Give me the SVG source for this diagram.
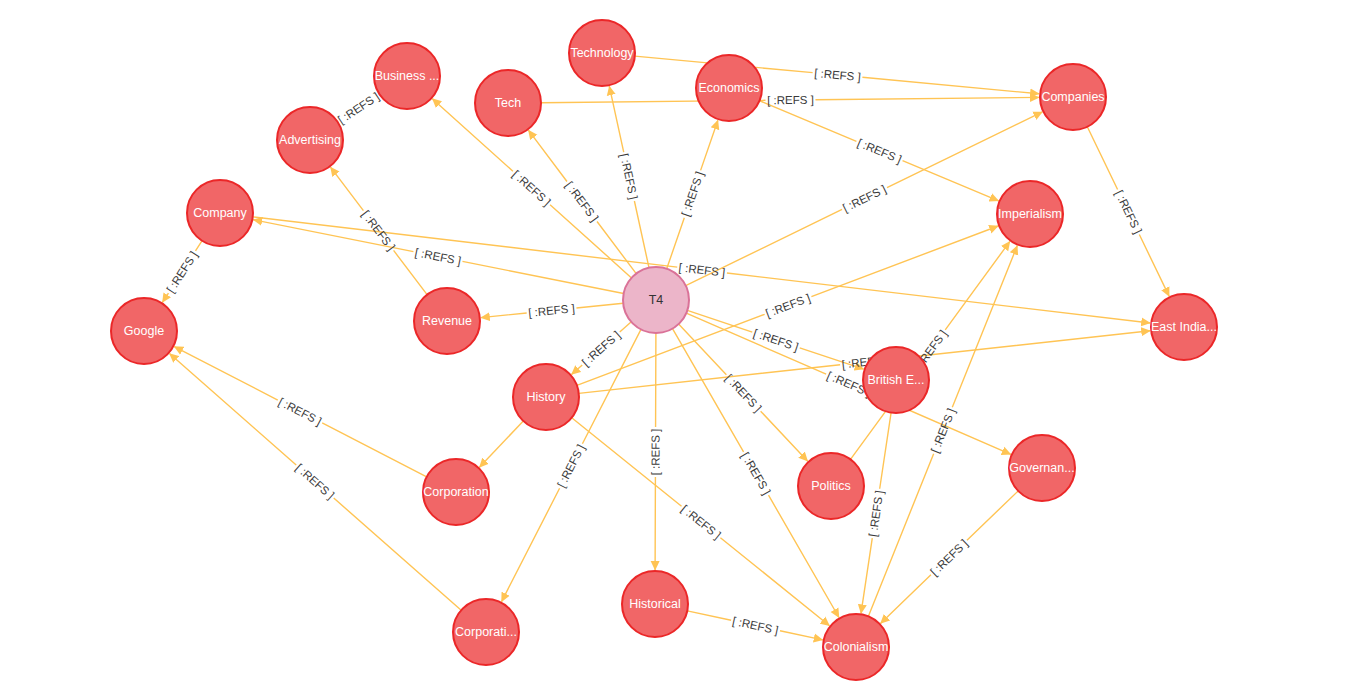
<svg xmlns="http://www.w3.org/2000/svg" width="1359" height="698" viewBox="0 0 1359 698">
<defs>
<marker id="arr" markerWidth="10" markerHeight="10" refX="9" refY="5" orient="auto" markerUnits="userSpaceOnUse"><path d="M0,0.5 L9.5,5 L0,9.5 Z" fill="#FFC454"/></marker>
<style>
.e{stroke:#FFC454;stroke-width:1.4;fill:none;marker-end:url(#arr)}
.l{font-family:"Liberation Sans",Arial,sans-serif;font-size:11.5px;fill:#3a3a3a;text-anchor:middle}
.n circle{fill:#F16667;stroke:#EB2728;stroke-width:2}
.n text{font-family:"Liberation Sans",Arial,sans-serif;font-size:12.5px;fill:#fff;text-anchor:middle}
#T4 circle{fill:#ECB5C9;stroke:#DA7298}
#T4 text{fill:#333}
</style>
</defs>
<rect width="1359" height="698" fill="#fff"/>
<g id="connectors">
<line class="e" x1="631.5" y1="277.9" x2="432.3" y2="98.7" stroke-dasharray="109.5 50 9999"/>
<line class="e" x1="636.2" y1="273.6" x2="528.4" y2="130.2" stroke-dasharray="65.2 50 9999"/>
<line class="e" x1="649" y1="267.8" x2="609.3" y2="86.2" stroke-dasharray="68.4 50 9999"/>
<line class="e" x1="666.7" y1="268.8" x2="717.9" y2="120.2" stroke-dasharray="54.1 50 9999"/>
<line class="e" x1="685.7" y1="285.6" x2="1042.4" y2="111.9" stroke-dasharray="173.9 50 9999"/>
<line class="e" x1="623.6" y1="293.5" x2="253.3" y2="219.7" stroke-dasharray="164.3 50 9999"/>
<line class="e" x1="623.2" y1="303.3" x2="480.8" y2="317.6" stroke-dasharray="47 50 9999"/>
<line class="e" x1="631.3" y1="321.8" x2="571.5" y2="374.5" stroke-dasharray="15.4 50 9999"/>
<line class="e" x1="641" y1="329.4" x2="501.5" y2="601.7" stroke-dasharray="128.5 50 9999"/>
<line class="e" x1="655.9" y1="333" x2="655.1" y2="570" stroke-dasharray="94 50 9999"/>
<line class="e" x1="672.5" y1="328.6" x2="839" y2="617.5" stroke-dasharray="142.3 50 9999"/>
<line class="e" x1="678.6" y1="324" x2="807.7" y2="461.2" stroke-dasharray="69.7 50 9999"/>
<line class="e" x1="687.3" y1="310.4" x2="863.7" y2="369.2" stroke-dasharray="68.5 50 9999"/>
<line class="e" x1="686.3" y1="313.2" x2="1010.8" y2="454.4" stroke-dasharray="152.5 50 9999"/>
<line class="e" x1="634.9" y1="56.1" x2="1039.1" y2="93.8" stroke-dasharray="178.5 50 9999"/>
<line class="e" x1="541" y1="102.7" x2="1039" y2="97.4" stroke-dasharray="224.5 50 9999"/>
<line class="e" x1="759.4" y1="100.7" x2="998.6" y2="200.9" stroke-dasharray="105.2 50 9999"/>
<line class="e" x1="1087.3" y1="126.7" x2="1169.2" y2="296.4" stroke-dasharray="69.7 50 9999"/>
<line class="e" x1="252.8" y1="216.9" x2="1150.2" y2="323" stroke-dasharray="427.4 50 9999"/>
<line class="e" x1="202.1" y1="240.7" x2="162.4" y2="302.4" stroke-dasharray="12.2 50 9999"/>
<line class="e" x1="337.5" y1="121.8" x2="378.6" y2="94.7" stroke-dasharray="0 9999" style="marker-end:none"/>
<line class="e" x1="427.1" y1="294.7" x2="330.5" y2="167.1" stroke-dasharray="55.5 50 9999"/>
<line class="e" x1="426.7" y1="476.9" x2="174.2" y2="346.6" stroke-dasharray="117.6 50 9999"/>
<line class="e" x1="461.2" y1="610.2" x2="169.5" y2="353.5" stroke-dasharray="169.8 50 9999"/>
<line class="e" x1="523.3" y1="421" x2="479.4" y2="467.3"/>
<line class="e" x1="576.9" y1="385.3" x2="998.2" y2="226" stroke-dasharray="200.7 50 9999"/>
<line class="e" x1="578.8" y1="393.4" x2="1150.2" y2="330.7" stroke-dasharray="262.9 50 9999"/>
<line class="e" x1="571.7" y1="417.7" x2="829.5" y2="625.7" stroke-dasharray="141.1 50 9999"/>
<line class="e" x1="891.1" y1="412.6" x2="861" y2="613.4" stroke-dasharray="77 50 9999"/>
<line class="e" x1="850.5" y1="459.4" x2="1009.9" y2="241.4" stroke-dasharray="110.5 50 9999"/>
<line class="e" x1="868.3" y1="616.4" x2="1017.3" y2="245.6" stroke-dasharray="175.3 50 9999"/>
<line class="e" x1="1018.2" y1="490.9" x2="880.5" y2="623.4" stroke-dasharray="71.1 50 9999"/>
<line class="e" x1="687.3" y1="610.9" x2="822.7" y2="639.9" stroke-dasharray="44.8 50 9999"/>
<g>
<text class="l" dy="0.35em" transform="translate(531.5,188) rotate(42)">[ :REFS ]</text>
<text class="l" dy="0.35em" transform="translate(582,201.5) rotate(53.1)">[ :REFS ]</text>
<text class="l" dy="0.35em" transform="translate(629,176.5) rotate(77.7)">[ :REFS ]</text>
<text class="l" dy="0.35em" transform="translate(692.5,194) rotate(-71)">[ :REFS ]</text>
<text class="l" dy="0.35em" transform="translate(864.5,198.5) rotate(-26)">[ :REFS ]</text>
<text class="l" dy="0.35em" transform="translate(438,256.5) rotate(11.3)">[ :REFS ]</text>
<text class="l" dy="0.35em" transform="translate(551.5,310.5) rotate(-5.7)">[ :REFS ]</text>
<text class="l" dy="0.35em" transform="translate(601,348.5) rotate(-41.4)">[ :REFS ]</text>
<text class="l" dy="0.35em" transform="translate(571,466) rotate(-62.9)">[ :REFS ]</text>
<text class="l" dy="0.35em" transform="translate(655.5,452) rotate(-89.8)">[ :REFS ]</text>
<text class="l" dy="0.35em" transform="translate(756,473.5) rotate(60)">[ :REFS ]</text>
<text class="l" dy="0.35em" transform="translate(743.5,393) rotate(46.7)">[ :REFS ]</text>
<text class="l" dy="0.35em" transform="translate(776,340) rotate(18.4)">[ :REFS ]</text>
<text class="l" dy="0.35em" transform="translate(849,384) rotate(23.5)">[ :REFS ]</text>
<text class="l" dy="0.35em" transform="translate(837.5,75) rotate(5.3)">[ :REFS ]</text>
<text class="l" dy="0.35em" transform="translate(790.5,100) rotate(-0.6)">[ :REFS ]</text>
<text class="l" dy="0.35em" transform="translate(879.5,151) rotate(22.7)">[ :REFS ]</text>
<text class="l" dy="0.35em" transform="translate(1128.5,212) rotate(64.2)">[ :REFS ]</text>
<text class="l" dy="0.35em" transform="translate(702,270) rotate(6.7)">[ :REFS ]</text>
<text class="l" dy="0.35em" transform="translate(182,272) rotate(-57.2)">[ :REFS ]</text>
<text class="l" dy="0.35em" transform="translate(358.5,108) rotate(-33.4)">[ :REFS ]</text>
<text class="l" dy="0.35em" transform="translate(378.5,230.5) rotate(52.9)">[ :REFS ]</text>
<text class="l" dy="0.35em" transform="translate(300,411.5) rotate(27.3)">[ :REFS ]</text>
<text class="l" dy="0.35em" transform="translate(315,481.5) rotate(41.4)">[ :REFS ]</text>
<text class="l" dy="0.35em" transform="translate(788,305.5) rotate(-20.7)">[ :REFS ]</text>
<text class="l" dy="0.35em" transform="translate(865,362) rotate(-6.3)">[ :REFS ]</text>
<text class="l" dy="0.35em" transform="translate(701,522) rotate(38.9)">[ :REFS ]</text>
<text class="l" dy="0.35em" transform="translate(876,513.5) rotate(-81.5)">[ :REFS ]</text>
<text class="l" dy="0.35em" transform="translate(930.5,350) rotate(-53.8)">[ :REFS ]</text>
<text class="l" dy="0.35em" transform="translate(943,430.5) rotate(-68.1)">[ :REFS ]</text>
<text class="l" dy="0.35em" transform="translate(949,557.5) rotate(-43.9)">[ :REFS ]</text>
<text class="l" dy="0.35em" transform="translate(755.5,625.5) rotate(12.1)">[ :REFS ]</text>
</g>
</g>
<g id="nodes">
<g class="n" id="T4"><circle cx="656" cy="300" r="33"/><text x="656" y="304">T4</text></g>
<g class="n" id="business"><circle cx="407" cy="76" r="33"/><text x="407" y="80">Business ...</text></g>
<g class="n" id="technology"><circle cx="602" cy="53" r="33"/><text x="602" y="57">Technology</text></g>
<g class="n" id="tech"><circle cx="508" cy="103" r="33"/><text x="508" y="107">Tech</text></g>
<g class="n" id="economics"><circle cx="729" cy="88" r="33"/><text x="729" y="92">Economics</text></g>
<g class="n" id="companies"><circle cx="1073" cy="97" r="33"/><text x="1073" y="101">Companies</text></g>
<g class="n" id="advertising"><circle cx="310" cy="140" r="33"/><text x="310" y="144">Advertising</text></g>
<g class="n" id="company"><circle cx="220" cy="213" r="33"/><text x="220" y="217">Company</text></g>
<g class="n" id="imperialism"><circle cx="1030" cy="214" r="33"/><text x="1030" y="218">Imperialism</text></g>
<g class="n" id="google"><circle cx="144" cy="331" r="33"/><text x="144" y="335">Google</text></g>
<g class="n" id="revenue"><circle cx="447" cy="321" r="33"/><text x="447" y="325">Revenue</text></g>
<g class="n" id="eastindia"><circle cx="1184" cy="327" r="33"/><text x="1184" y="331">East India...</text></g>
<g class="n" id="history"><circle cx="546" cy="397" r="33"/><text x="546" y="401">History</text></g>
<g class="n" id="britishe"><circle cx="896" cy="380" r="33"/><text x="896" y="384">British E...</text></g>
<g class="n" id="corporation"><circle cx="456" cy="492" r="33"/><text x="456" y="496">Corporation</text></g>
<g class="n" id="politics"><circle cx="831" cy="486" r="33"/><text x="831" y="490">Politics</text></g>
<g class="n" id="governan"><circle cx="1042" cy="468" r="33"/><text x="1042" y="472">Governan...</text></g>
<g class="n" id="historical"><circle cx="655" cy="604" r="33"/><text x="655" y="608">Historical</text></g>
<g class="n" id="corporati"><circle cx="486" cy="632" r="33"/><text x="486" y="636">Corporati...</text></g>
<g class="n" id="colonialism"><circle cx="856" cy="647" r="33"/><text x="856" y="651">Colonialism</text></g>
</g>
</svg>
